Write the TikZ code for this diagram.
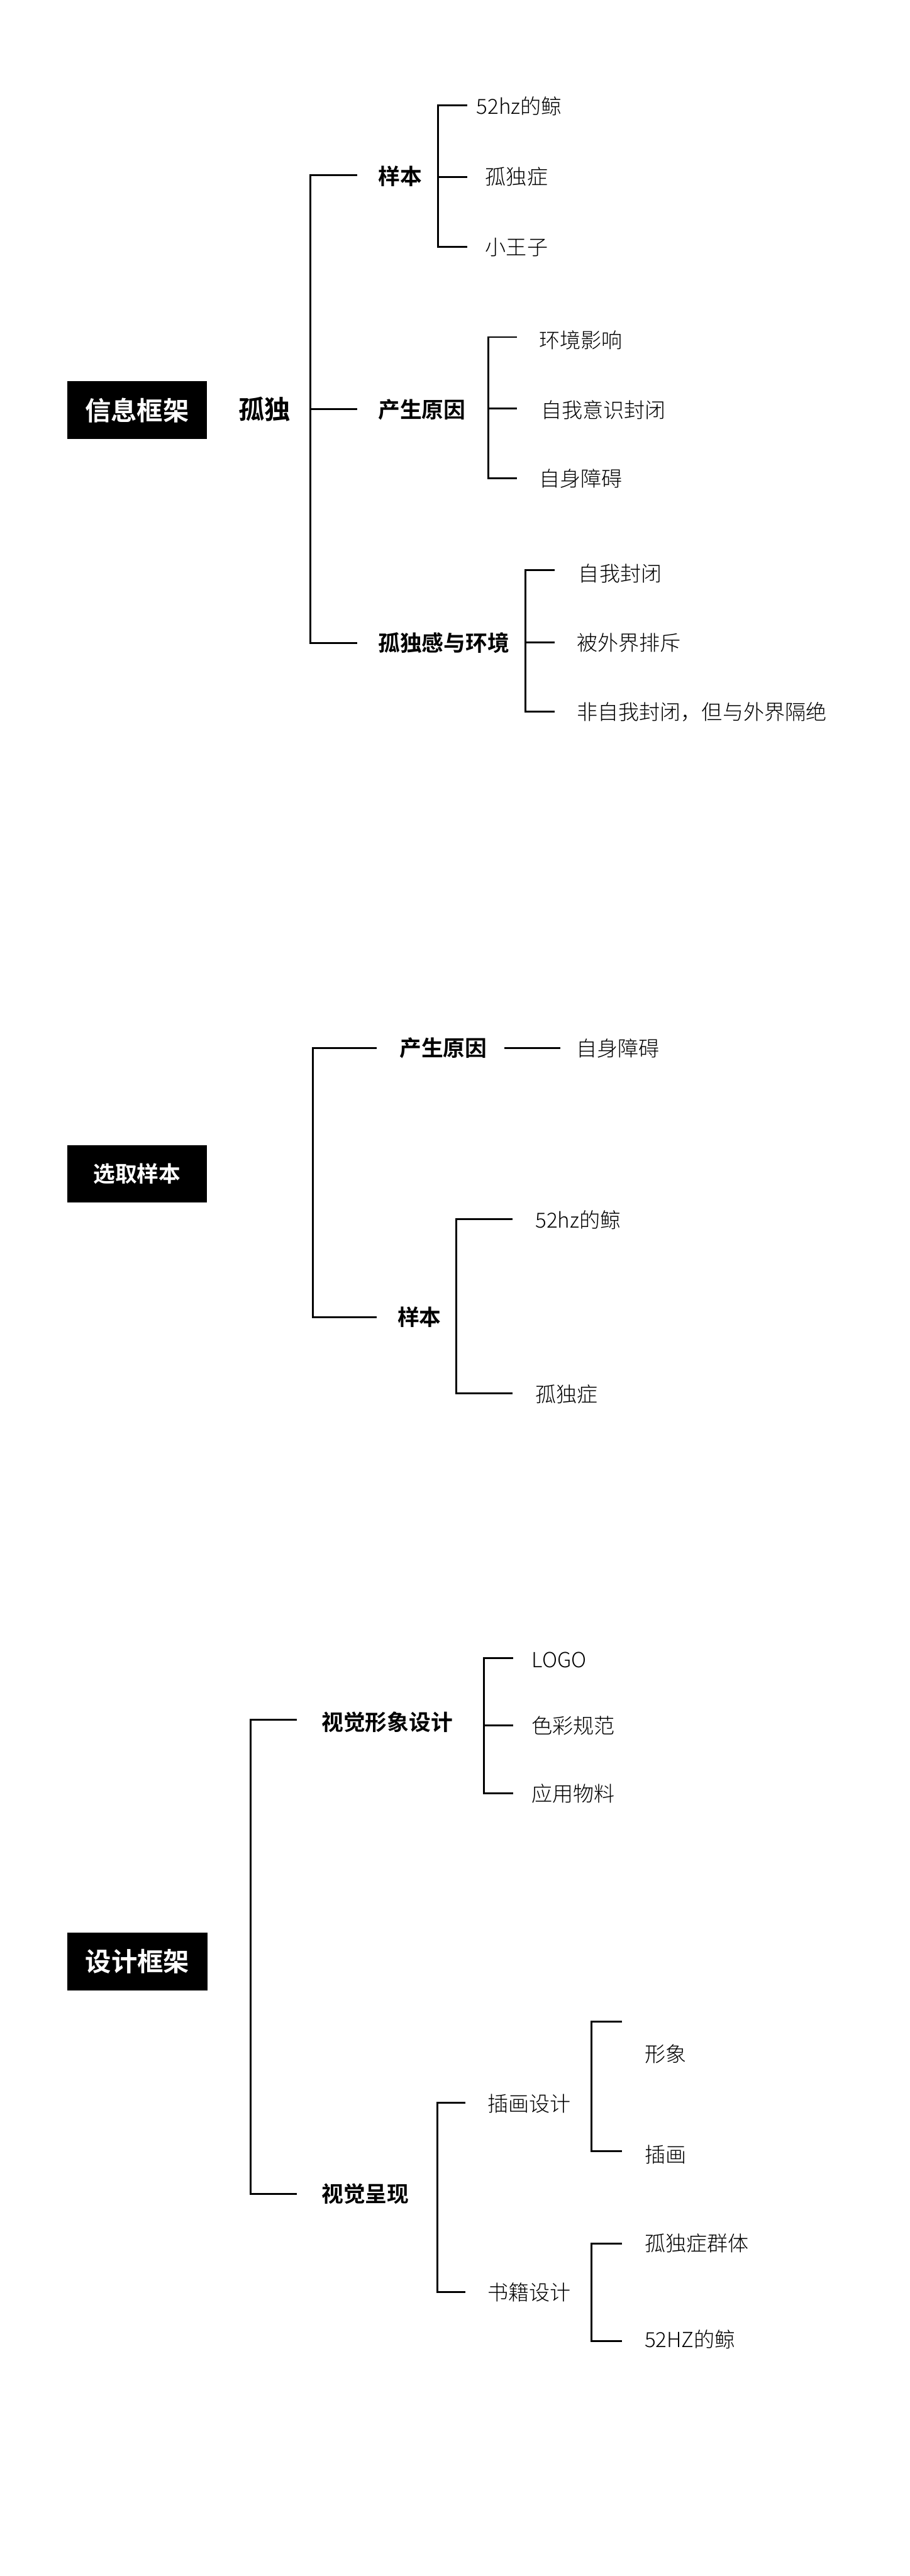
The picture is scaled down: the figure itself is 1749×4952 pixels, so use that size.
\documentclass[tikz,border=0pt]{standalone}
\usepackage{fontspec}
\newfontfamily\lightf{Noto Sans CJK SC Light}
\newfontfamily\boldf{Noto Sans CJK SC Bold}
\tikzset{
  conn/.style={line width=3.6pt, line join=miter, line cap=butt},
  leaf/.style={anchor=west, inner sep=0pt, font=\lightf\fontsize{40}{48}\selectfont},
  branch/.style={anchor=west, inner sep=0pt, font=\boldf\fontsize{42}{50}\selectfont},
  titlebox/.style={fill=black, text=white, inner sep=0pt, minimum width=269pt, minimum height=111pt, font=\boldf\fontsize{50}{60}\selectfont},
}
\begin{document}
\begin{tikzpicture}[x=1pt,y=-1pt]
\useasboundingbox (0,0) rectangle (1749,4952);
\fill[white] (0,0) rectangle (1749,4952);

% ===== Section 1 =====
\node[titlebox] (t1) at (263.5,788.5) {信息框架};
\node[anchor=west, inner sep=0pt, font=\boldf\fontsize{50}{60}\selectfont] (root1) at (458,786) {孤独};
\node[branch] (s1a) at (727,339) {样本};
\node[branch] (s1b) at (727,788) {产生原因};
\node[branch] (s1c) at (727,1236) {孤独感与环境};
\node[leaf] (l11) at (916,204) {52hz的鲸};
\node[leaf] (l12) at (933,340) {孤独症};
\node[leaf] (l13) at (933,475) {小王子};
\node[leaf] (l14) at (1036,654) {环境影响};
\node[leaf] (l15) at (1040,788) {自我意识封闭};
\node[leaf] (l16) at (1036,920) {自身障碍};
\node[leaf] (l17) at (1112,1103) {自我封闭};
\node[leaf] (l18) at (1109,1235) {被外界排斥};
\node[leaf] (l19) at (1109,1368) {非自我封闭，但与外界隔绝};

\coordinate (j1) at (597,786);
\coordinate (e1a) at (687,337);
\coordinate (e1b) at (687,786);
\coordinate (e1c) at (687,1236);
\draw[conn] (e1a) -| (j1) |- (e1c);
\draw[conn] (j1) -- (e1b);

\coordinate (j1a) at (842,340);
\coordinate (f11) at (898,203);
\coordinate (f12) at (898,340);
\coordinate (f13) at (898,475);
\draw[conn] (f11) -| (j1a) |- (f13);
\draw[conn] (j1a) -- (f12);

\coordinate (j1b) at (939,785);
\coordinate (f14) at (994,648);
\coordinate (f15) at (994,785);
\coordinate (f16) at (994,920);
\draw[conn] (f14) -| (j1b) |- (f16);
\draw[conn] (j1b) -- (f15);

\coordinate (j1c) at (1010,1235);
\coordinate (f17) at (1066,1096);
\coordinate (f18) at (1066,1235);
\coordinate (f19) at (1066,1368);
\draw[conn] (f17) -| (j1c) |- (f19);
\draw[conn] (j1c) -- (f18);

% ===== Section 2 =====
\node[titlebox, font=\boldf\fontsize{42}{50}\selectfont] (t2) at (263.5,2256.5) {选取样本};
\node[branch] (s2a) at (768,2015) {产生原因};
\node[leaf] (l21) at (1108,2015) {自身障碍};
\node[branch] (s2b) at (764,2532) {样本};
\node[leaf] (l22) at (1029,2345) {52hz的鲸};
\node[leaf] (l23) at (1029,2680) {孤独症};

\coordinate (j2) at (602,2270);
\coordinate (e2a) at (724,2015);
\coordinate (e2b) at (724,2532);
\draw[conn] (e2a) -| (j2) |- (e2b);
\coordinate (h2a) at (969,2015);
\coordinate (h2b) at (1077,2015);
\draw[conn] (h2a) -- (h2b);
\coordinate (j2b) at (877,2510);
\coordinate (f22) at (985,2343);
\coordinate (f23) at (985,2678);
\draw[conn] (f22) -| (j2b) |- (f23);

% ===== Section 3 =====
\node[titlebox] (t3) at (264,3770.5) {设计框架};
\node[branch] (s3a) at (618,3310) {视觉形象设计};
\node[branch] (s3b) at (618,4217) {视觉呈现};
\node[leaf] (l31) at (1022,3191) {LOGO};
\node[leaf] (l32) at (1022,3317) {色彩规范};
\node[leaf] (l33) at (1022,3448) {应用物料};
\node[leaf] (m31) at (937,4044) {插画设计};
\node[leaf] (m32) at (937,4406) {书籍设计};
\node[leaf] (l34) at (1239,3948) {形象};
\node[leaf] (l35) at (1239,4142) {插画};
\node[leaf] (l36) at (1239,4312) {孤独症群体};
\node[leaf] (l37) at (1239,4497) {52HZ的鲸};

\coordinate (j3) at (482,3760);
\coordinate (e3a) at (571,3306);
\coordinate (e3b) at (571,4217);
\draw[conn] (e3a) -| (j3) |- (e3b);

\coordinate (j3a) at (930,3317);
\coordinate (f31) at (986,3187);
\coordinate (f32) at (986,3317);
\coordinate (f33) at (986,3447);
\draw[conn] (f31) -| (j3a) |- (f33);
\draw[conn] (j3a) -- (f32);

\coordinate (j3b) at (841,4220);
\coordinate (g31) at (895,4042);
\coordinate (g32) at (895,4406);
\draw[conn] (g31) -| (j3b) |- (g32);

\coordinate (j3c) at (1137,4010);
\coordinate (f34) at (1196,3886);
\coordinate (f35) at (1196,4135);
\draw[conn] (f34) -| (j3c) |- (f35);

\coordinate (j3d) at (1137,4400);
\coordinate (f36) at (1196,4313);
\coordinate (f37) at (1196,4500);
\draw[conn] (f36) -| (j3d) |- (f37);
\end{tikzpicture}
\end{document}
